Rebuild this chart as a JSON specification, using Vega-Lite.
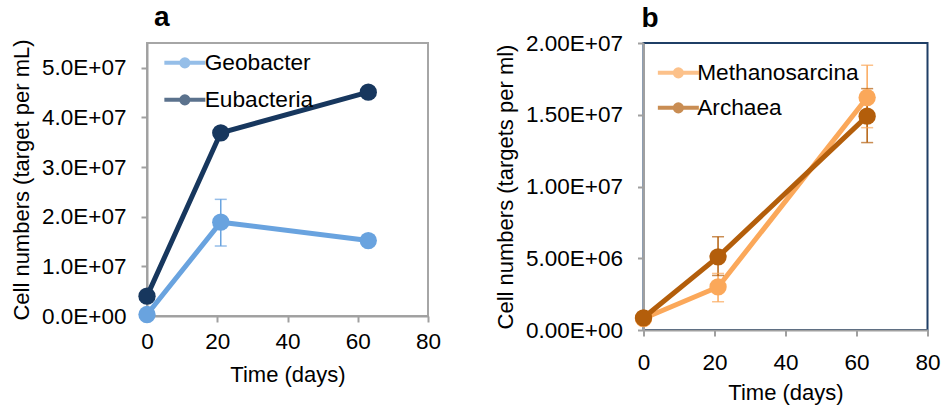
{
  "$schema": "https://vega.github.io/schema/vega-lite/v6.json",
  "padding": {"left": 9, "top": 3, "right": 5, "bottom": 5},
  "config": {
    "font": "Liberation Sans",
    "view": {"stroke": "#a6a6a6", "strokeWidth": 2},
    "axis": {"grid": false, "labelFlush": false, "domainColor": "#a0a0a0", "domainWidth": 2, "tickColor": "#a0a0a0", "tickWidth": 2, "tickSize": 6, "labelFont": "Liberation Sans", "labelFontSize": 22.5, "labelColor": "#000000", "titleFont": "Liberation Sans", "titleFontSize": 22, "titleFontWeight": "normal", "titleColor": "#000000"},
    "legend": {"labelFont": "Liberation Sans", "labelFontSize": 22.7, "labelColor": "#000000", "labelLimit": 400, "padding": 0, "symbolStrokeWidth": 4},
    "title": {"font": "Liberation Sans", "fontSize": 28, "fontWeight": "bold", "anchor": "start", "frame": "group", "baseline": "alphabetic", "color": "#000000"}
  },
  "resolve": {"scale": {"color": "independent"}, "legend": {"color": "independent"}},
  "spacing": 51.5,
  "hconcat": [
    {
      "title": {"text": "a", "offset": 6.5, "dx": 7},
      "width": 281,
      "height": 273,
      "data": {"values": [
        {"series": "Geobacter", "day": 0, "value": 300000},
        {"series": "Geobacter", "day": 21, "value": 18900000, "lo": 14100000, "hi": 23500000},
        {"series": "Geobacter", "day": 63, "value": 15200000},
        {"series": "Eubacteria", "day": 0, "value": 4000000},
        {"series": "Eubacteria", "day": 21, "value": 36900000},
        {"series": "Eubacteria", "day": 63, "value": 45100000}
      ]},
      "encoding": {
        "x": {"field": "day", "type": "quantitative", "scale": {"domain": [0, 80]}, "axis": {"values": [0, 20, 40, 60, 80], "title": "Time (days)", "labelPadding": 8, "titlePadding": 11.5}},
        "y": {"field": "value", "type": "quantitative", "scale": {"domain": [0, 55000000]}, "axis": {"values": [0, 10000000, 20000000, 30000000, 40000000, 50000000], "labelExpr": "replace(format(datum.value, '.1e'), 'e+', 'E+0')", "title": "Cell numbers (target per mL)", "labelPadding": 15, "titlePadding": 8}},
        "color": {"field": "series", "type": "nominal", "scale": {"domain": ["Geobacter", "Eubacteria"], "range": ["#69a3df", "#17375e"]}, "legend": {"title": null, "orient": "none", "legendX": 14, "legendY": 8.5, "symbolType": "M-1,0H4.125M2.0125,0A0.45,0.45,0,1,1,1.1125,0A0.45,0.45,0,1,1,2.0125,0ZM1.7125,0A0.15,0.15,0,1,1,1.4125,0A0.15,0.15,0,1,1,1.7125,0Z", "symbolSize": 256, "labelOffset": 21, "rowPadding": 12}}
      },
      "layer": [
        {"mark": {"type": "line", "strokeWidth": 5, "clip": false}},
        {"transform": [{"filter": "isValid(datum.lo)"}], "mark": {"type": "rule", "strokeWidth": 1.5}, "encoding": {"y": {"field": "lo", "type": "quantitative"}, "y2": {"field": "hi"}}},
        {"transform": [{"filter": "isValid(datum.lo)"}], "mark": {"type": "tick", "orient": "horizontal", "size": 12, "thickness": 1.5}, "encoding": {"y": {"field": "lo", "type": "quantitative"}}},
        {"transform": [{"filter": "isValid(datum.hi)"}], "mark": {"type": "tick", "orient": "horizontal", "size": 12, "thickness": 1.5}, "encoding": {"y": {"field": "hi", "type": "quantitative"}}},
        {"mark": {"type": "circle", "size": 300, "opacity": 1}}
      ]
    },
    {
      "title": {"text": "b", "offset": -0.5, "dx": -2},
      "width": 284,
      "height": 287,
      "view": {"stroke": "#1f3f66", "strokeWidth": 2},
      "data": {"values": [
        {"series": "Methanosarcina", "day": 0, "value": 800000},
        {"series": "Methanosarcina", "day": 21, "value": 3000000, "lo": 1970000, "hi": 3940000},
        {"series": "Methanosarcina", "day": 63, "value": 16200000, "lo": 14100000, "hi": 18450000},
        {"series": "Archaea", "day": 0, "value": 850000},
        {"series": "Archaea", "day": 21, "value": 5100000, "lo": 3800000, "hi": 6500000},
        {"series": "Archaea", "day": 63, "value": 14900000, "lo": 13060000, "hi": 16820000}
      ]},
      "encoding": {
        "x": {"field": "day", "type": "quantitative", "scale": {"domain": [0, 80]}, "axis": {"values": [0, 20, 40, 60, 80], "title": "Time (days)", "labelPadding": 15.5, "titlePadding": 8}},
        "y": {"field": "value", "type": "quantitative", "scale": {"domain": [0, 20000000]}, "axis": {"values": [0, 5000000, 10000000, 15000000, 20000000], "labelExpr": "replace(format(datum.value, '.2e'), 'e+', 'E+0')", "title": "Cell numbers (targets per ml)", "labelPadding": 15, "titlePadding": 8}},
        "color": {"field": "series", "type": "nominal", "scale": {"domain": ["Methanosarcina", "Archaea"], "range": ["#fba85a", "#b35e0b"]}, "legend": {"title": null, "orient": "none", "legendX": 11, "legendY": 18.5, "symbolType": "M-1,0H4.125M2.0125,0A0.45,0.45,0,1,1,1.1125,0A0.45,0.45,0,1,1,2.0125,0ZM1.7125,0A0.15,0.15,0,1,1,1.4125,0A0.15,0.15,0,1,1,1.7125,0Z", "symbolSize": 256, "labelOffset": 20, "rowPadding": 10}}
      },
      "layer": [
        {"mark": {"type": "line", "strokeWidth": 5, "clip": false}},
        {"transform": [{"filter": "isValid(datum.lo)"}], "mark": {"type": "rule", "strokeWidth": 1.5}, "encoding": {"y": {"field": "lo", "type": "quantitative"}, "y2": {"field": "hi"}}},
        {"transform": [{"filter": "isValid(datum.lo)"}], "mark": {"type": "tick", "orient": "horizontal", "size": 12, "thickness": 1.5}, "encoding": {"y": {"field": "lo", "type": "quantitative"}}},
        {"transform": [{"filter": "isValid(datum.hi)"}], "mark": {"type": "tick", "orient": "horizontal", "size": 12, "thickness": 1.5}, "encoding": {"y": {"field": "hi", "type": "quantitative"}}},
        {"mark": {"type": "circle", "size": 300, "opacity": 1}}
      ]
    }
  ]
}
